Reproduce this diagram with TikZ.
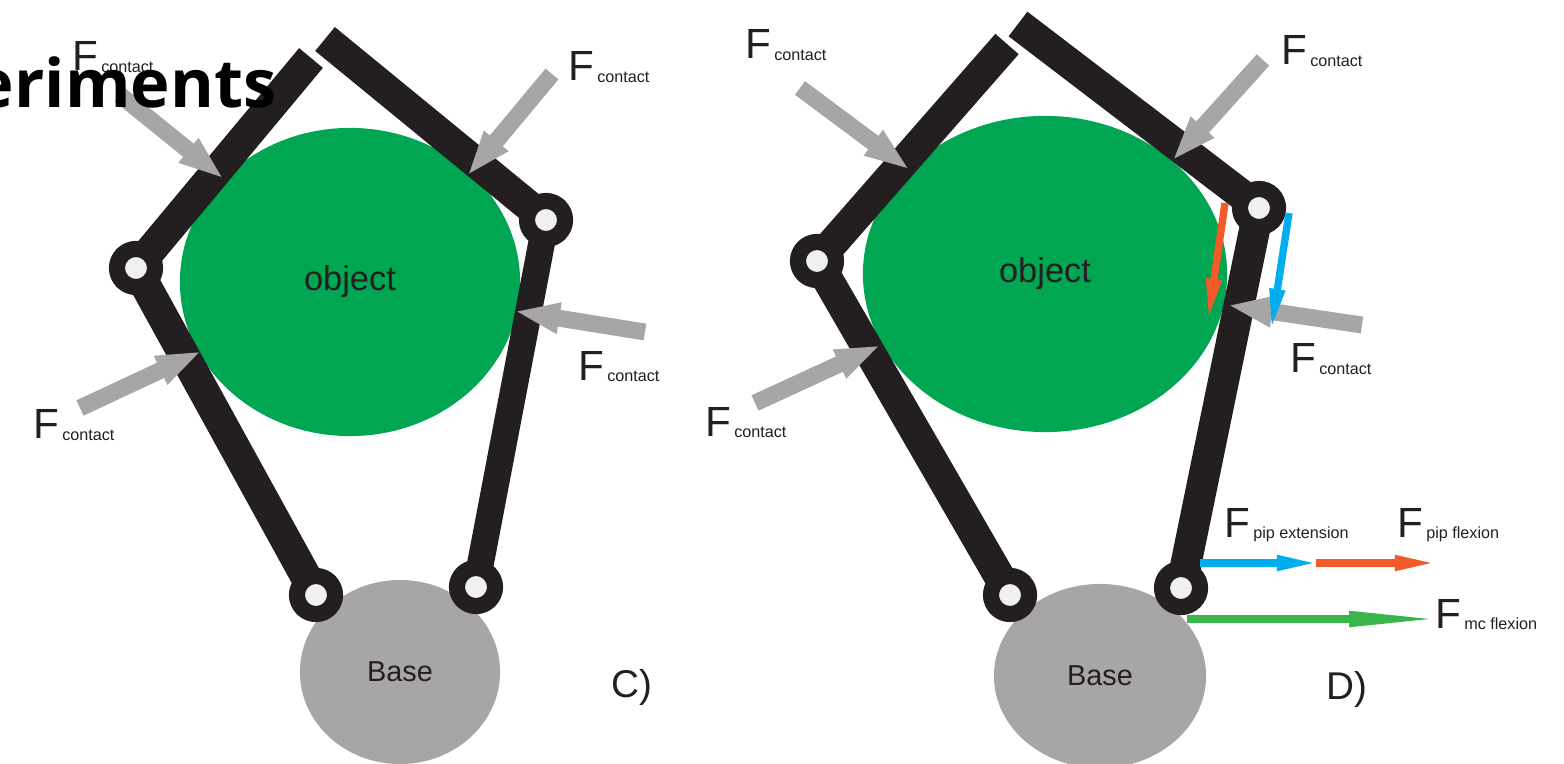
\documentclass[tikz,border=0pt]{standalone}
\usepackage{fontspec}
\setmainfont{Liberation Sans}
\newfontfamily\headfont{Open Sans}
\usetikzlibrary{arrows.meta,shapes.geometric}
\definecolor{linkblack}{HTML}{231F20}
\definecolor{objgreen}{HTML}{00A651}
\definecolor{basegray}{HTML}{A7A5A6}
\definecolor{pipred}{HTML}{F15A29}
\definecolor{pipblue}{HTML}{00AEEF}
\definecolor{mcgreen}{HTML}{39B54A}
\newcommand{\forcelabel}[1]{F\raisebox{-0.5pt}{\fontsize{4.6pt}{6pt}\selectfont\hspace{0.8pt}#1}}
\begin{document}
\begin{tikzpicture}[
    x=0.01cm, y=-0.01cm,
    object/.style={ellipse, fill=objgreen, inner sep=0pt, text=linkblack, font=\fontsize{9.8pt}{13pt}\selectfont},
    base/.style={ellipse, fill=basegray, inner sep=0pt, text=linkblack, font=\fontsize{8.2pt}{11pt}\selectfont},
    joint/.style={circle, draw=linkblack, fill=white!94!black, line width=4.6pt, minimum size=0.38cm, inner sep=0pt, outer sep=0pt},
    link/.style={draw=linkblack, line width=8.8pt},
    contact/.style={draw=basegray, line width=4.8pt, -{Triangle[length=13pt, width=8pt]}},
    pip/.style={line width=2.1pt, -{Triangle[length=12pt, width=4pt]}},
    mc/.style={draw=mcgreen, line width=2.2pt, -{Triangle[length=27pt, width=4pt]}},
    flabel/.style={anchor=base west, inner sep=0pt, text=linkblack, font=\fontsize{12pt}{14pt}\selectfont},
    panel/.style={anchor=base, inner sep=0pt, text=linkblack, font=\fontsize{11pt}{13pt}\selectfont}
]
\useasboundingbox (0,0) rectangle (1564,764);

% Panel C
\node (objC) [object, minimum width=3.4cm, minimum height=3.08cm] at (350,282) {object};
\node (baseC) [base, minimum width=2cm, minimum height=1.84cm] at (400,672) {Base};

\node (mcpCl) [joint] at (316,595) {};
\node (mcpCr) [joint] at (476,587) {};
\node (pipCl) [joint] at (136,268) {};
\node (pipCr) [joint] at (546,220) {};
\coordinate (tipCl) at (311,58);
\coordinate (tipCr) at (325,39);

\draw[link] (mcpCl) -- (pipCl);
\draw[link] (pipCl) -- (tipCl);
\draw[link, line width=7.6pt] (mcpCr) -- (pipCr);
\draw[link] (pipCr) -- (tipCr);

\coordinate (c1a) at (120,95);
\coordinate (c1b) at (224,179);
\coordinate (c2a) at (552,74);
\coordinate (c2b) at (467,176);
\coordinate (c3a) at (645,332);
\coordinate (c3b) at (514,311);
\coordinate (c4a) at (80,408);
\coordinate (c4b) at (202,351);
\draw[contact] (c1a) -- (c1b);
\draw[contact] (c2a) -- (c2b);
\draw[contact] (c3a) -- (c3b);
\draw[contact] (c4a) -- (c4b);

\node (fC1) [flabel] at (72,71) {\forcelabel{contact}};
\node (fC2) [flabel] at (568,81) {\forcelabel{contact}};
\node (fC3) [flabel] at (578,380) {\forcelabel{contact}};
\node (fC4) [flabel] at (33,439) {\forcelabel{contact}};
\node (labC) [panel] at (632,697) {C)};

% Panel D
\node (objD) [object, minimum width=3.64cm, minimum height=3.16cm] at (1045,274) {object};
\node (baseD) [base, minimum width=2.12cm, minimum height=1.84cm] at (1100,676) {Base};

\node (mcpDl) [joint] at (1010,595) {};
\node (mcpDr) [joint] at (1181,588) {};
\node (pipDl) [joint] at (817,261) {};
\node (pipDr) [joint] at (1259,208) {};
\coordinate (tipDl) at (1007,44);
\coordinate (tipDr) at (1018,24);

\draw[link] (mcpDl) -- (pipDl);
\draw[link] (pipDl) -- (tipDl);
\draw[link] (mcpDr) -- (pipDr);
\draw[link] (pipDr) -- (tipDr);

\coordinate (d1a) at (800,88);
\coordinate (d1b) at (910,170);
\coordinate (d2a) at (1263,60);
\coordinate (d2b) at (1172,161);
\coordinate (d3a) at (1362,325);
\coordinate (d3b) at (1227,305);
\coordinate (d4a) at (755,403);
\coordinate (d4b) at (881,345);
\draw[contact] (d1a) -- (d1b);
\draw[contact] (d2a) -- (d2b);
\draw[contact] (d3a) -- (d3b);
\draw[contact] (d4a) -- (d4b);

% Tendon forces
\coordinate (r1a) at (1225,203);
\coordinate (r1b) at (1208,321);
\coordinate (b1a) at (1289,213);
\coordinate (b1b) at (1271,331);
\coordinate (b2a) at (1200,563);
\coordinate (b2b) at (1319,563);
\coordinate (r2a) at (1316,563);
\coordinate (r2b) at (1437,563);
\coordinate (g1a) at (1187,619);
\coordinate (g1b) at (1444,619);
\draw[pip, draw=pipred] (r1a) -- (r1b);
\draw[pip, draw=pipblue] (b1a) -- (b1b);
\draw[pip, draw=pipblue] (b2a) -- (b2b);
\draw[pip, draw=pipred] (r2a) -- (r2b);
\draw[mc] (g1a) -- (g1b);

\node (fD1) [flabel] at (745,59) {\forcelabel{contact}};
\node (fD2) [flabel] at (1281,65) {\forcelabel{contact}};
\node (fD3) [flabel] at (1290,373) {\forcelabel{contact}};
\node (fD4) [flabel] at (705,436) {\forcelabel{contact}};
\node (fD5) [flabel] at (1224,537) {\forcelabel{pip extension}};
\node (fD6) [flabel] at (1397,537) {\forcelabel{pip flexion}};
\node (fD7) [flabel] at (1435,628) {\forcelabel{mc flexion}};
\node (labD) [panel] at (1347,699) {D)};

% Slide title
\node (title) [anchor=base east, inner sep=0pt, font=\headfont\bfseries\fontsize{19pt}{25pt}\selectfont] at (277,108) {eriments};
\end{tikzpicture}
\end{document}
